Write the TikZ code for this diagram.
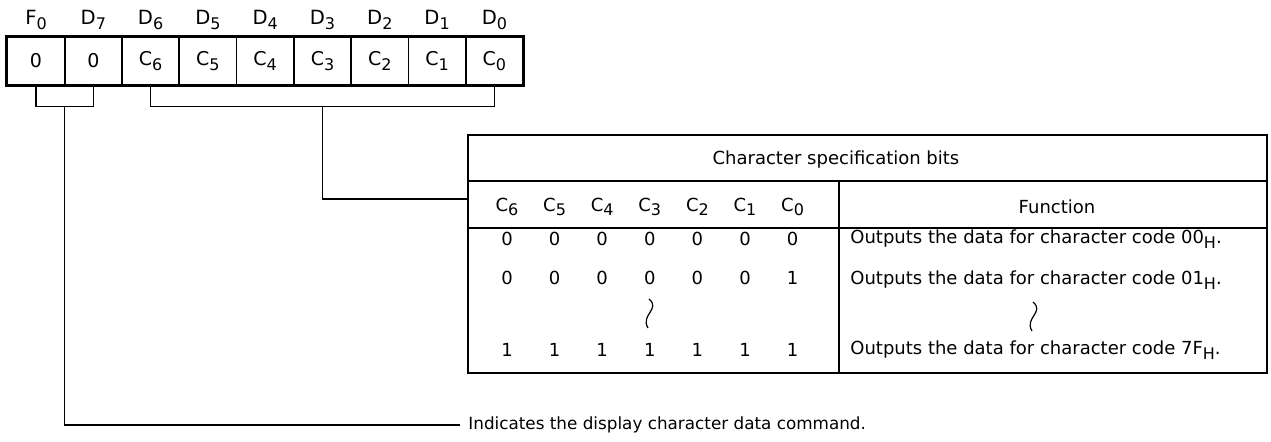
\documentclass[tikz,border=0pt]{standalone}
\usepackage{fontspec}
\setmainfont{DejaVu Sans}
\usetikzlibrary{calc}
\def\ix#1{\raisebox{-0.45ex}{\fontsize{8}{9}\selectfont #1}}
\tikzset{
  cell/.style={draw, line width=0.9pt, minimum width=28.65pt, minimum height=23.5pt, inner sep=0pt, font=\fontsize{9.5}{11}\selectfont},
  bitlbl/.style={font=\fontsize{9.8}{11}\selectfont, inner sep=0pt},
  tbltxt/.style={font=\fontsize{9}{11}\selectfont, inner sep=0pt},
  wire/.style={line width=0.6pt},
  rule/.style={line width=0.8pt},
}

\begin{document}
\begin{tikzpicture}[x=0.5pt,y=-0.5pt]
		%%%%% START %%%%%
		\useasboundingbox (0,0) rectangle (1271,442);
		
		% register byte
		\foreach \n/\lbl/\val [count=\i from 0] in {cF/F\ix{0}/0, c7/D\ix{7}/0, c6/D\ix{6}/C\ix{6}, c5/D\ix{5}/C\ix{5}, c4/D\ix{4}/C\ix{4}, c3/D\ix{3}/C\ix{3}, c2/D\ix{2}/C\ix{2}, c1/D\ix{1}/C\ix{1}, c0/D\ix{0}/C\ix{0}}
		{
			\node[cell] (\n) at (36+57.3*\i, 61) {\val};
			\node[bitlbl] (l\n) at (36+57.3*\i, 20) {\lbl};
		}
		\draw[line width=1.2pt] (cF.north west) rectangle (c0.south east);
		
		% brackets under the register
		\draw[wire] (cF.south) -- ++(0,21) -| (c7.south);
		\coordinate (bA) at ($(cF.south)!0.5!(c7.south)+(0,21)$);
		\draw[wire] (c6.south) -- ++(0,21) -| (c0.south);
		\coordinate (bB) at ($(c6.south)!0.5!(c0.south)+(0,21)$);
		
		% table
		\node[draw, rule, minimum width=399.5pt, minimum height=119pt, inner sep=0pt] (tbl) at (867.5, 254) {};
		\draw[rule] (tbl.west |- 0,181) -- (tbl.east |- 0,181);
		\draw[rule] (tbl.west |- 0,228) -- (tbl.east |- 0,228);
		\draw[rule] (839,181) -- (839,0 |- tbl.south);
		
		\node[tbltxt] (ttl) at (836, 160) {Character specification bits};
		\node[tbltxt] (fn) at (1057, 207) {Function};
		\foreach \k [count=\i from 0] in {6,5,4,3,2,1,0}
		{
			\node[tbltxt] (h\k) at (507+47.6*\i, 207) {C\ix{\k}};
			\node[tbltxt] (ra\k) at (507+47.6*\i, 239) {0};
			\node[tbltxt] (rb\k) at (507+47.6*\i, 278) {\ifnum\k=0 1\else 0\fi};
			\node[tbltxt] (rc\k) at (507+47.6*\i, 350) {1};
		}
		\node[tbltxt, anchor=west] (fa) at (850, 239) {Outputs the data for character code 00\ix{H}.};
		\node[tbltxt, anchor=west] (fb) at (850, 280) {Outputs the data for character code 01\ix{H}.};
		\node[tbltxt, anchor=west] (fc) at (850, 350) {Outputs the data for character code 7F\ix{H}.};
		
		% omission marks
		\draw[wire] (649,299) .. controls (661,309) and (640,315) .. (648,328);
		\draw[wire] (1033,302) .. controls (1045,312) and (1024,318) .. (1032,331);
		
		% leaders
		\coordinate (tin) at (tbl.west |- 0,199);
		\draw[wire] (bB) |- (tin);
		\node[tbltxt, font=\fontsize{8.4}{10}\selectfont, anchor=west, inner xsep=4pt] (note) at (460, 425) {Indicates the display character data command.};
		\draw[wire] (bA) |- (note.west);
		
		%%%%% END %%%%%
	\end{tikzpicture}
\end{document}
